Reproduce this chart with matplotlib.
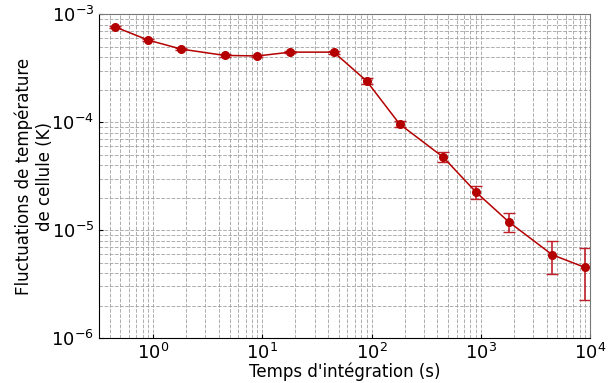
import numpy as np
import matplotlib.pyplot as plt

# temps d'intégration (s) et fluctuations (K)
tau = [0.45, 0.9, 1.8, 4.5, 9, 18, 45, 90, 180, 450, 900, 1800, 4500, 9000]
sigma = [7.6e-4, 5.75e-4, 4.75e-4, 4.15e-4, 4.1e-4, 4.45e-4, 4.45e-4,
         2.4e-4, 9.6e-5, 4.75e-5, 2.25e-5, 1.19e-5, 5.9e-6, 4.5e-6]
sigma_err = [1.5e-5, 1.2e-5, 1e-5, 1e-5, 1e-5, 1e-5, 1.3e-5,
             1.4e-5, 6.5e-6, 5e-6, 3.3e-6, 2.4e-6, 1.95e-6, 2.25e-6]

fig = plt.figure(figsize=(6.16, 3.83), dpi=100)
ax = fig.add_axes([0.161, 0.1175, 0.797, 0.8455])

ax.errorbar(tau, sigma, yerr=sigma_err, fmt="o-", color="#b40000",
            markersize=5.5, linewidth=1.1, capsize=4.5, elinewidth=1.2,
            ecolor="#c0202a")

ax.set_xscale("log")
ax.set_yscale("log")
ax.set_xlim(0.32, 1e4)
ax.set_ylim(1e-6, 1e-3)

ax.grid(True, which="both", linestyle="--", color="#999999", linewidth=0.7,
        alpha=0.8)

ax.spines["top"].set_color("#777777")
ax.spines["right"].set_color("#777777")
ax.tick_params(which="major", direction="in", labelsize=13, length=3)
ax.tick_params(which="minor", direction="in", length=0)

ax.set_xlabel("Temps d'intégration (s)", fontsize=12, labelpad=0)
ax.set_ylabel("Fluctuations de température\nde cellule (K)", fontsize=12,
              labelpad=-2)

plt.savefig("out.png")
